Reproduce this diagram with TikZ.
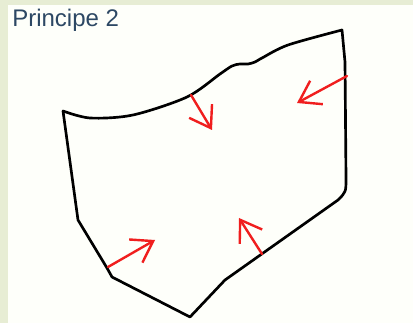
\documentclass[tikz,border=0pt]{standalone}
\usepackage{fontspec}
\setmainfont{Liberation Sans}
\usetikzlibrary{arrows.meta}
\definecolor{frame}{RGB}{231,237,212}
\definecolor{paper}{RGB}{254,255,250}
\definecolor{titleblue}{RGB}{45,72,100}
\definecolor{arrowred}{RGB}{240,30,30}

\begin{document}
\begin{tikzpicture}[x=0.75pt,y=-0.75pt,line cap=round,line join=round,
  outline/.style={black,line width=2pt},
  push/.style={arrowred,line width=1.8pt,-{Straight Barb[length=15pt,width=20pt]}}]
\useasboundingbox (0,0) rectangle (413,323);
\fill[frame] (0,0) rectangle (413,323);
\fill[paper] (8,5) rectangle (413,323);
\node[anchor=base west,inner sep=0pt,text=titleblue,font=\fontsize{18pt}{20pt}\selectfont] (title) at (12,27) {Principe 2};
% piece outline
\draw[outline] plot[smooth,tension=0.5] coordinates {(63,111) (90,118) (133,115) (187,97) (220,74) (232,66) (240,64) (248,64) (255,62) (262,58) (288,45) (342,30)}
  -- (345,62) -- (346,178) .. controls (346,192) .. (338,200)
  -- (225,280) -- (190,317) -- (112,277) -- (107,268) -- (78,220) -- cycle;
% forces on the boundary
\coordinate (ftop) at (191,95);
\coordinate (ftopin) at (212,130);
\coordinate (fright) at (347,76);
\coordinate (frightin) at (297,103);
\coordinate (fleft) at (108,267);
\coordinate (fleftin) at (155,240);
\coordinate (fbot) at (262,254);
\coordinate (fbotin) at (239,218);
\draw[push] (ftop) -- (ftopin);
\draw[push] (fright) -- (frightin);
\draw[push] (fleft) -- (fleftin);
\draw[push] (fbot) -- (fbotin);
\end{tikzpicture}
\end{document}
